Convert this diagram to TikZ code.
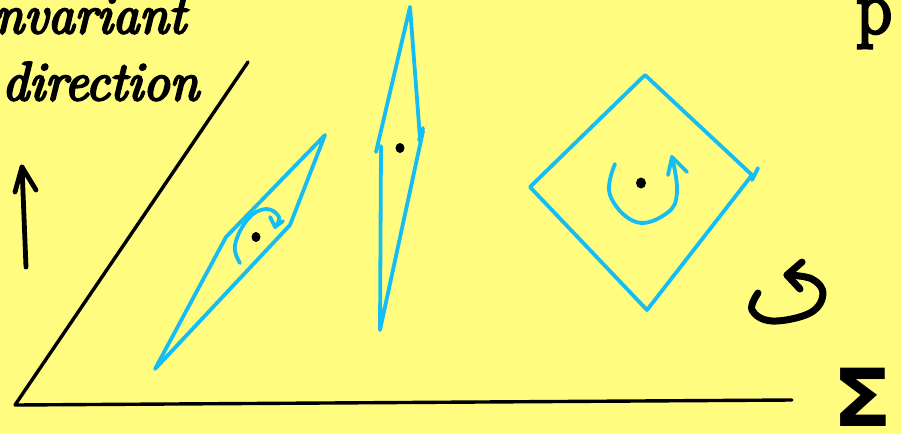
\documentclass[tikz,border=0pt]{standalone}
\usepackage{fontspec}
\newfontfamily\dejavu{DejaVu Sans}
\newfontfamily\handfont{Latin Modern Roman}[FakeBold=4.5]
\definecolor{paper}{RGB}{255,252,127}
\definecolor{skyblue}{RGB}{20,190,245}
\begin{document}
\begin{tikzpicture}[x=1pt,y=-1pt,
  bluepen/.style={draw=skyblue,line width=3.8pt,line cap=round,line join=round},
  blackpen/.style={draw=black,line width=3.4pt,line cap=round,line join=round},
  dotmark/.style={fill=black},
  hand/.style={font=\handfont\fontsize{42}{42}\selectfont\itshape,inner sep=0pt,xscale=1.27,yscale=1.3}]
\fill[paper] (0,0) rectangle (901,434);
\useasboundingbox (0,0) rectangle (901,434);

% labels
\node[hand,anchor=base east] (inv) at (186,33) {invariant};
\node[hand,anchor=base east] (dir) at (199,100) {direction};
\node[hand,anchor=base west,font=\handfont\fontsize{42}{42}\selectfont\upshape,xscale=1.3,yscale=1.4] (pp) at (856,33) {p};
\node[font=\dejavu\bfseries\fontsize{80}{80}\selectfont,inner sep=0pt,xscale=1.1] (sig) at (863,397) {Σ};

% axes
\coordinate (o) at (15,405);
\coordinate (ytop) at (248,62);
\coordinate (xend) at (792,400);
\draw[blackpen] (ytop) -- (o) -- (xend);

% vertical arrow
\coordinate (va) at (26,267);
\coordinate (vb) at (22,167);
\draw[blackpen,line width=4.8pt] (va) -- (vb);
\draw[blackpen,line width=4.8pt] (15,192) -- (vb) -- (36,190);

% thin parallelogram (left)
\draw[bluepen] (155,369) -- (226,237) -- (325,135) -- (290,225) -- cycle;
\fill[dotmark] (256,237) ellipse (4.5pt and 5pt);
\draw[bluepen] plot[smooth,tension=0.7] coordinates {(240,263) (235,245) (248,219) (266,209) (279,217) (275,227)};
\draw[bluepen] (270,217) -- (275,227) -- (283,221);

% middle vertical sliver
\draw[bluepen] (376,152) -- (410,7) -- (420,138);
\draw[bluepen] (423,128) -- (419,140);
\draw[bluepen] (381,146) -- (380,330) -- (423,131);
\fill[dotmark] (400,148) ellipse (4.5pt and 5pt);

% diamond (right)
\draw[bluepen] (645,75) -- (530,187) -- (647,310) -- (752,175) -- cycle;
\draw[bluepen] (758,168) -- (752,180);
\fill[dotmark] (641,183) ellipse (5pt and 5.5pt);
\draw[bluepen] plot[smooth,tension=0.7] coordinates {(615,164) (610,195) (636,222) (667,213) (677,192) (672,157)};
\draw[bluepen] (668,175) -- (672,157) -- (687,172);

% rotation symbol
\draw[blackpen,line width=7pt] plot[smooth,tension=0.65] coordinates {(758,293) (752,310) (772,321) (810,313) (823,294) (812,279) (787,275)};
\draw[blackpen,line width=7pt] (802,262) -- (787,275) -- (800,289);
\end{tikzpicture}
\end{document}
